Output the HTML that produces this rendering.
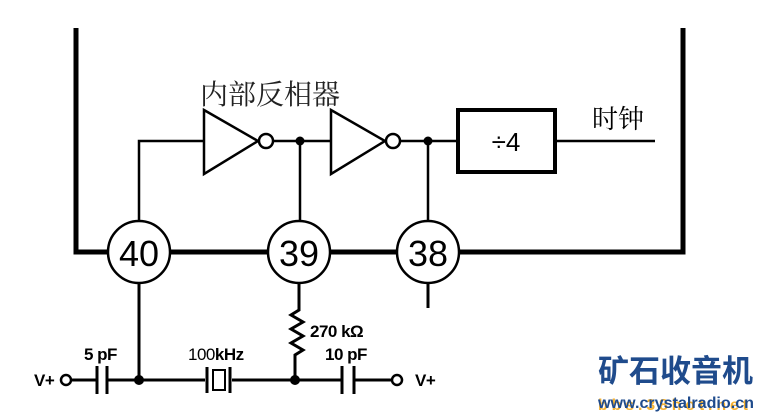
<!DOCTYPE html><html><head><style>body{margin:0;background:#fff}svg{display:block}</style></head><body>
<svg width="763" height="413" viewBox="0 0 763 413" xmlns="http://www.w3.org/2000/svg">
<g stroke="#000" fill="none">
<path d="M76 28V252H683V28" stroke-width="5"/>
<g stroke-width="2.5">
<path d="M139 222V141H204M274 141H331M401 141H458M555 141H655M300 141V222M428 141V222"/>
<path d="M204 110L258 141L204 174Z M331 110L385 141L331 174Z" fill="#fff"/>
<circle cx="266" cy="141" r="7" fill="#fff"/><circle cx="393" cy="141" r="7" fill="#fff"/>
<rect x="458" y="110" width="97" height="62" stroke-width="4"/>
</g>
<g stroke-width="2.5" fill="#fff">
<circle cx="139" cy="252" r="31"/><circle cx="299" cy="252" r="31"/><circle cx="428" cy="252" r="31"/>
</g>
<g stroke-width="3">
<path d="M139 283V380M299 283V310L291 315L303 322L291 329L303 336L291 343L303 350L295 355V380M428 283V308"/>
<path d="M72 380H96M108 380H205M232 380H341M355 380H391"/>
<path d="M97 366V394M107 366V394M342 366V394M354 366V394M207 367V393M230 367V393"/>
<rect x="213" y="370" width="12" height="20" stroke-width="2"/>
<circle cx="66" cy="380" r="5" stroke-width="2.5"/><circle cx="397" cy="380" r="5" stroke-width="2.5"/>
</g>
</g>
<circle cx="139" cy="380" r="5"/><circle cx="295" cy="380" r="5"/>
<circle cx="300" cy="141" r="4.5"/><circle cx="428" cy="141" r="4.5"/>
<g font-family="Liberation Sans, sans-serif" text-anchor="middle">
<text x="139" y="266" font-size="36">40</text><text x="299" y="266" font-size="36">39</text><text x="428" y="266" font-size="36">38</text>
<text x="506" y="151" font-size="26">÷4</text>
</g>
<text x="200" y="104" font-size="28" font-family="Noto Serif CJK SC, serif" fill="#222">内部反相器</text>
<text x="592" y="128" font-size="26" font-family="Noto Serif CJK SC, serif">时钟</text>
<g font-family="Liberation Sans, sans-serif" font-weight="bold" font-size="17" letter-spacing="-0.5">
<text x="310" y="337">270 kΩ</text>
<text x="84" y="360">5 pF</text>
<text x="325" y="360">10 pF</text>
<text x="188" y="360"><tspan font-weight="normal">100</tspan>kHz</text>
<text x="34" y="386">V+</text>
<text x="415" y="386">V+</text>
</g>
<text x="598" y="382" font-size="31" font-weight="bold" font-family="Noto Sans CJK SC, sans-serif" fill="#1f4b8c" textLength="155" lengthAdjust="spacingAndGlyphs">矿石收音机</text>
<text x="598" y="410" font-size="16" font-weight="bold" font-family="Liberation Sans, sans-serif" fill="#f5a000" opacity="0.8" textLength="150">bbs.38hot.net</text>
<text x="598" y="408" font-size="16" font-weight="bold" font-family="Liberation Sans, sans-serif" fill="#1f4b8c" textLength="156" lengthAdjust="spacingAndGlyphs">www.crystalradio.cn</text>
</svg>
</body></html>
